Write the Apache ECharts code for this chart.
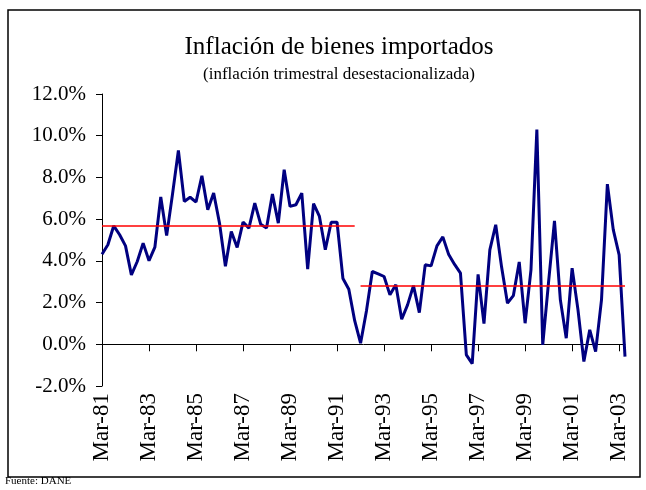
<!DOCTYPE html>
<html>
<head>
<meta charset="utf-8">
<title>Inflación de bienes importados</title>
<script src="https://cdn.jsdelivr.net/npm/echarts@6.0.0/dist/echarts.min.js"></script>
<style>
    html, body { margin: 0; padding: 0; background: #fff; }
    #main { width: 646px; height: 490px; }
</style>
</head>
<body>
<div id="main"></div>
<script>
// 季度标签: Mar-81 ... Jun-03
let quarters = ['Mar', 'Jun', 'Sep', 'Dec']
let years = ['81', '82', '83', '84', '85', '86', '87', '88', '89', '90', '91', '92',
    '93', '94', '95', '96', '97', '98', '99', '00', '01', '02', '03']
let categories = []
for (let y = 0; y < years.length; y++) {
    for (let q = 0; q < quarters.length; q++) {
        if (categories.length < 90) categories.push(quarters[q] + '-' + years[y])
    }
}

// inflación trimestral desestacionalizada (%)
let inflacion = [
    4.32, 4.77, 5.68, 5.25, 4.72, 3.33, 3.97, 4.85, 4.01, 4.66,
    7.06, 5.21, 7.2, 9.29, 6.85, 7.05, 6.82, 8.08, 6.45, 7.25,
    5.8, 3.74, 5.41, 4.64, 5.86, 5.57, 6.77, 5.76, 5.57, 7.2,
    5.81, 8.37, 6.61, 6.69, 7.25, 3.6, 6.74, 6.13, 4.53, 5.85,
    5.85, 3.15, 2.64, 1.13, 0.05, 1.6, 3.49, 3.38, 3.25, 2.37,
    2.85, 1.2, 1.89, 2.81, 1.52, 3.81, 3.76, 4.72, 5.15, 4.3,
    3.83, 3.41, -0.51, -0.93, 3.35, 0.99, 4.53, 5.73, 3.7, 1.97,
    2.33, 3.95, 1.01, 3.57, 10.29, -0.03, 3.0, 5.92, 2.13, 0.29,
    3.65, 1.65, -0.83, 0.69, -0.35, 2.13, 7.68, 5.5, 4.29, -0.59
]

// promedios por periodo (líneas rojas)
let periodoInicio = ['Mar-81', 'Mar-92']
let periodoFin = ['Dec-91', 'Jun-03']
let promedios = [5.7, 2.81]

let fuente = 'Liberation Serif, Times New Roman, serif'

window.onload = function () {
    let myChart = echarts.init(document.getElementById('main'))

    let meanLines = []
    for (let i = 0; i < promedios.length; i++) {
        meanLines.push([
            { coord: [periodoInicio[i], promedios[i]] },
            { coord: [periodoFin[i], promedios[i]] }
        ])
    }

    let option = {
        animation: false,
        backgroundColor: '#fff',
        title: {
            text: 'Inflación de bienes importados',
            subtext: '(inflación trimestral desestacionalizada)',
            left: 334,
            top: 30,
            textAlign: 'center',
            itemGap: 6,
            textStyle: { fontFamily: fuente, fontSize: 25, fontWeight: 'normal', color: '#000' },
            subtextStyle: { fontFamily: fuente, fontSize: 17, color: '#000' }
        },
        grid: { left: 102, right: 21, top: 94, bottom: 104, outerBoundsMode: 'none' },
        xAxis: {
            type: 'category',
            data: categories,
            boundaryGap: false,
            axisLine: { onZero: true, lineStyle: { color: '#000', width: 1 } },
            axisTick: { interval: 7, length: 7, lineStyle: { color: '#000' } },
            axisLabel: {
                interval: 7,
                rotate: 90,
                margin: 7,
                fontFamily: fuente,
                fontSize: 23,
                color: '#000'
            },
            splitLine: { show: false }
        },
        yAxis: {
            type: 'value',
            min: -2,
            max: 12,
            interval: 2,
            axisLine: { show: true, lineStyle: { color: '#000', width: 1 } },
            axisTick: { show: true, length: 6, lineStyle: { color: '#000' } },
            axisLabel: {
                margin: 16,
                fontFamily: fuente,
                fontSize: 21,
                color: '#000',
                formatter: function (v) { return v.toFixed(1) + '%' }
            },
            splitLine: { show: false }
        },
        series: [{
            type: 'line',
            data: inflacion,
            symbol: 'none',
            lineStyle: { color: '#000080', width: 3 },
            markLine: {
                silent: true,
                symbol: 'none',
                label: { show: false },
                lineStyle: { color: '#ff0000', type: 'solid', width: 1.5 },
                data: meanLines
            }
        }],
        graphic: [
            {
                type: 'rect',
                shape: { x: 8, y: 10, width: 632, height: 467 },
                style: { fill: 'none', stroke: '#000', lineWidth: 1.5 },
                silent: true
            },
            {
                type: 'text',
                left: 5,
                top: 476,
                style: { text: 'Fuente: DANE', font: '11px ' + fuente, fill: '#000' }
            }
        ]
    }
    myChart.setOption(option)
}
</script>
</body>
</html>
